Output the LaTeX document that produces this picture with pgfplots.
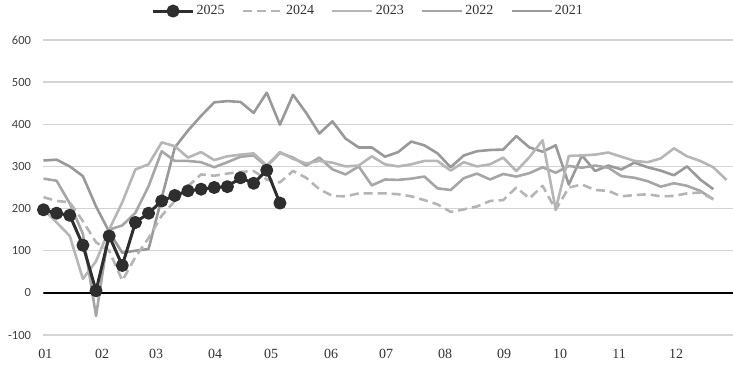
\documentclass[border=0pt]{standalone}
\usepackage{fontspec}
\setmainfont{Liberation Serif}
\newfontfamily\calfont{Carlito}
\usepackage{pgfplots}
\pgfplotsset{compat=1.18}
\definecolor{c25}{HTML}{2E2E2E}
\definecolor{c24}{HTML}{B5B5B5}
\definecolor{c23}{HTML}{B6B6B6}
\definecolor{c22}{HTML}{A6A6A6}
\definecolor{c21}{HTML}{999999}
\definecolor{gridc}{HTML}{D4D4D4}
\begin{document}
\begin{tikzpicture}
\begin{axis}[
  name=ax,
  scale only axis,
  width=689.5pt, height=295pt,
  xmin=0, xmax=52.5,
  ymin=-100, ymax=600,
  axis line style={draw=none},
  major tick length=0pt,
  ytick={-100,0,100,200,300,400,500,600},
  yticklabels={-100,0,100,200,300,400,500,600},
  yticklabel style={font=\calfont\fontsize{12.5}{13}\selectfont, xshift=-9pt, text=black!75},
  xtick={0.15,4.46,8.57,13.06,17.33,21.9,26.08,30.58,35.07,39.34,43.83,48.17},
  xticklabels={01,02,03,04,05,06,07,08,09,10,11,12},
  xticklabel style={font=\fontsize{14}{14}\selectfont, yshift=-11pt, text=black!80},
  ymajorgrids,
  grid style={gridc, line width=1.3pt},
  legend columns=5,
  reverse legend,
  legend style={at={(axis description cs:0.471,1.098)}, anchor=center, draw=none, fill=none,
    font=\fontsize{14}{14}\selectfont, inner sep=0pt,
    /tikz/every even column/.append style={column sep=15pt},
    nodes={inner sep=2pt, text=black!80}},
  legend image code/.code={\draw[mark repeat=2,mark phase=2,#1] plot coordinates {(0pt,0pt) (20pt,0pt) (40pt,0pt)};},
  line join=round,
]
\draw[black, line width=2pt] (axis cs:0,0) -- (axis cs:52.5,0);
% 2021
\addplot[c21, line width=2.6pt, mark=none] coordinates {
(0,314)(1,316)(2,300)(3,277)(4,205)(5,145)(6,95)(7,100)(8,104)(9,225)(10,345)(11,385)(12,420)(13,452)(14,455)(15,453)(16,427)(17,475)(18,399)(19,470)(20,427)(21,378)(22,407)(23,366)(24,345)(25,345)(26,323)(27,334)(28,359)(29,350)(30,331)(31,298)(32,326)(33,336)(34,339)(35,340)(36,372)(37,345)(38,335)(39,350)(40,257)(41,326)(42,289)(43,302)(44,293)(45,309)(46,298)(47,290)(48,279)(49,300)(50,269)(51,246)};
\addlegendentry{2021}
% 2022
\addplot[c22, line width=2.6pt, mark=none] coordinates {
(0,271)(1,266)(2,212)(3,140)(4,-55)(5,150)(6,160)(7,190)(8,253)(9,336)(10,313)(11,313)(12,310)(13,298)(14,310)(15,323)(16,326)(17,300)(18,332)(19,321)(20,302)(21,321)(22,293)(23,281)(24,300)(25,255)(26,269)(27,268)(28,271)(29,276)(30,248)(31,244)(32,272)(33,283)(34,269)(35,282)(36,276)(37,284)(38,298)(39,285)(40,301)(41,297)(42,302)(43,297)(44,277)(45,273)(46,265)(47,252)(48,260)(49,254)(50,242)(51,222)};
\addlegendentry{2022}
% 2023
\addplot[c23, line width=2.6pt, mark=none] coordinates {
(0,198)(1,167)(2,135)(3,33)(4,75)(5,150)(6,215)(7,293)(8,305)(9,357)(10,348)(11,321)(12,334)(13,315)(14,324)(15,328)(16,331)(17,302)(18,334)(19,318)(20,307)(21,313)(22,309)(23,300)(24,302)(25,324)(26,305)(27,300)(28,305)(29,313)(30,313)(31,290)(32,310)(33,300)(34,305)(35,321)(36,289)(37,322)(38,362)(39,198)(40,325)(41,326)(42,328)(43,333)(44,323)(45,313)(46,310)(47,319)(48,343)(49,324)(50,313)(51,298)(52,268)};
\addlegendentry{2023}
% 2024
\addplot[c24, line width=2.6pt, mark=none, dash pattern=on 9pt off 5pt] coordinates {
(0,227)(1,218)(2,215)(3,170)(4,120)(5,100)(6,29)(7,85)(8,130)(9,183)(10,218)(11,253)(12,281)(13,278)(14,283)(15,287)(16,289)(17,269)(18,262)(19,289)(20,273)(21,246)(22,230)(23,229)(24,236)(25,236)(26,236)(27,234)(28,229)(29,220)(30,210)(31,192)(32,198)(33,205)(34,218)(35,220)(36,250)(37,224)(38,254)(39,197)(40,250)(41,257)(42,244)(43,242)(44,229)(45,232)(46,234)(47,229)(48,230)(49,236)(50,238)(51,222)};
\addlegendentry{2024}
% 2025
\addplot[c25, line width=3pt, mark=*, mark size=5pt, mark options={solid, fill=c25, draw=c25}] coordinates {
(0,197)(1,189)(2,184)(3,113)(4,5)(5,135)(6,65)(7,167)(8,189)(9,218)(10,231)(11,242)(12,246)(13,250)(14,252)(15,273)(16,260)(17,291)(18,213)};
\addlegendentry{2025}
\end{axis}
\path (ax.south west) ++(-43.5pt,-34pt) coordinate (bbA);
\path (ax.north east) ++(0pt,40pt) coordinate (bbB);
\pgfresetboundingbox
\path (bbA) rectangle (bbB);
\end{tikzpicture}
\end{document}
